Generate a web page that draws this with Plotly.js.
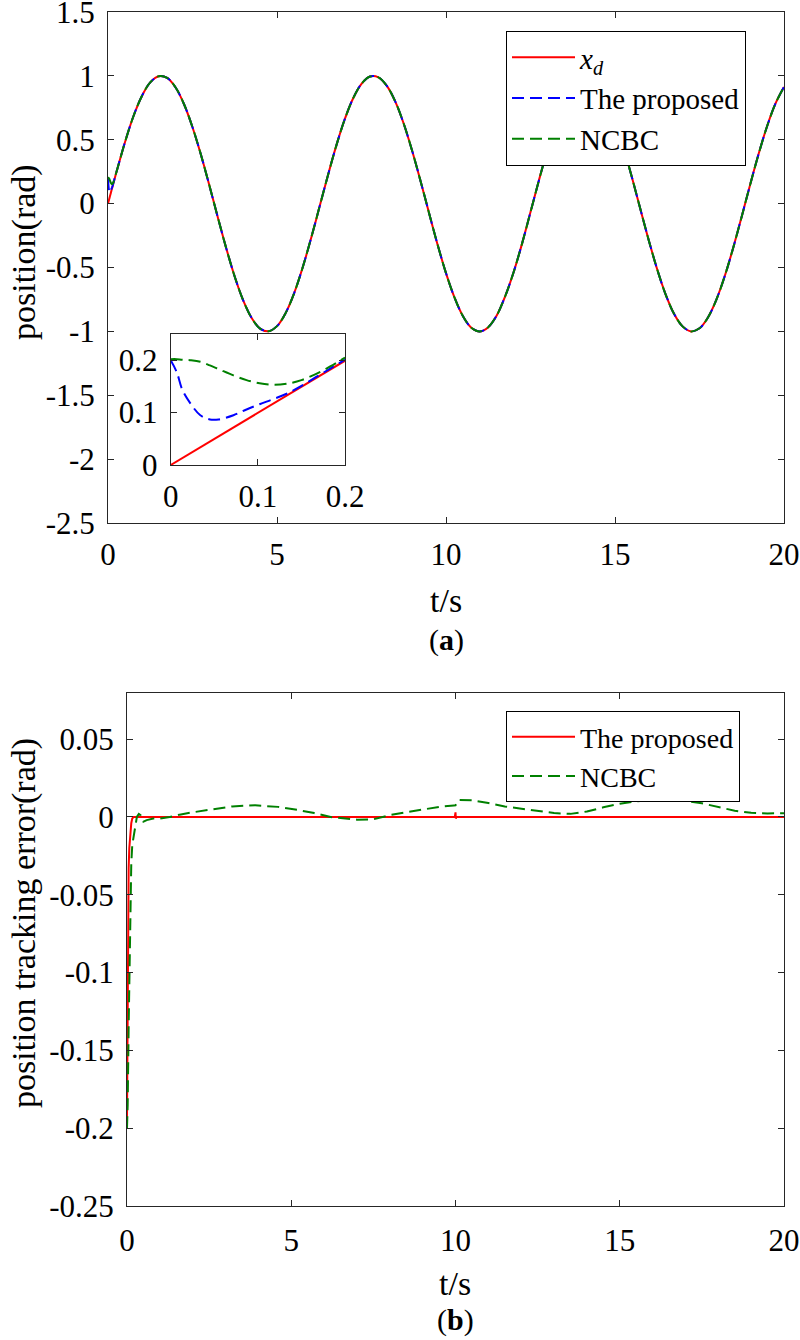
<!DOCTYPE html>
<html>
<head>
<meta charset="utf-8">
<script src="https://cdn.plot.ly/plotly-3.0.1.min.js"></script>
<style>
html,body{margin:0;padding:0;background:#fff}
#chart{width:800px;height:1340px}
</style>
</head>
<body>
<div id="chart"></div>
<script>
// ---------- Panel (a): position ----------
// start segment (also shown in the inset)
const tStart   = [0, 0.007, 0.013, 0.022, 0.034, 0.045, 0.055, 0.072, 0.087, 0.102, 0.118, 0.133, 0.15, 0.167, 0.183, 0.2];
const xdStart  = [0, 0.007, 0.013, 0.022, 0.034, 0.045, 0.055, 0.072, 0.087, 0.102, 0.118, 0.133, 0.149, 0.166, 0.182, 0.199];
const propStart= [0.2, 0.177, 0.145, 0.119, 0.095, 0.087, 0.087, 0.095, 0.106, 0.116, 0.126, 0.136, 0.151, 0.168, 0.184, 0.201];
const ncbcStart= [0.202, 0.202, 0.201, 0.2, 0.197, 0.19, 0.183, 0.171, 0.162, 0.156, 0.153, 0.155, 0.162, 0.174, 0.188, 0.205];
// rest of the run (all three curves coincide here)
const tMain = [0.25,0.5,0.75,1,1.25,1.5,1.75,2,2.25,2.5,2.75,3,3.25,3.5,3.75,4,4.25,4.5,4.75,5,
  5.25,5.5,5.75,6,6.25,6.5,6.75,7,7.25,7.5,7.75,8,8.25,8.5,8.75,9,9.25,9.5,9.75,10,
  10.25,10.5,10.75,11,11.25,11.5,11.75,12,12.25,12.5,12.75,13,13.25,13.5,13.75,14,14.25,14.5,14.75,15,
  15.25,15.5,15.75,16,16.25,16.5,16.75,17,17.25,17.5,17.75,18,18.25,18.5,18.75,19,19.25,19.5,19.75,20];
const xdMain = [0.247,0.479,0.682,0.841,0.949,0.997,0.984,0.909,0.778,0.598,
  0.382,0.141,-0.108,-0.351,-0.572,-0.757,-0.895,-0.978,-0.999,-0.959,
  -0.859,-0.706,-0.508,-0.279,-0.033,0.215,0.450,0.657,0.823,0.938,
  0.995,0.989,0.922,0.799,0.625,0.412,0.174,-0.075,-0.320,-0.544,
  -0.734,-0.880,-0.971,-1.000,-0.967,-0.876,-0.726,-0.537,-0.313,-0.066,
  0.183,0.420,0.632,0.804,0.926,0.991,0.994,0.935,0.818,0.650,
  0.443,0.206,-0.042,-0.288,-0.516,-0.712,-0.864,-0.961,-1.000,-0.976,
  -0.891,-0.751,-0.565,-0.343,-0.100,0.150,0.390,0.606,0.784,0.913];

// ---------- Panel (b): tracking error ----------
const tErrP = [0, 0.01, 0.02, 0.03, 0.04, 0.05, 0.07, 0.1, 0.13, 0.16, 0.2, 0.3, 1, 5, 9.98, 10.0, 10.01, 10.03, 15, 20];
const errP  = [-0.195, -0.15, -0.1, -0.065, -0.045, -0.033, -0.02, -0.01, -0.004, -0.001, 0, 0, 0, 0, 0, 0.003, -0.001, 0, 0, 0];
const tErrN = [0, 0.02, 0.05, 0.08, 0.1, 0.13, 0.16, 0.2, 0.25, 0.3, 0.36, 0.42, 0.5, 0.6, 0.8, 1.0, 1.3, 1.6, 2.0, 2.6,
  3.2, 3.9, 4.6, 5.2, 5.7, 6.2, 6.6, 7.0, 7.5, 8.0, 8.5, 9.0, 9.5, 9.95, 10.0, 10.05, 10.1, 10.5, 11.0, 11.5,
  12.0, 12.5, 13.0, 13.5, 14.0, 14.5, 15.0, 15.5, 16.0, 16.5, 17.0, 17.5, 18.0, 18.5, 19.0, 19.5, 20.0];
const errN  = [-0.2, -0.185, -0.135, -0.09, -0.061, -0.03, -0.018, -0.012, -0.007, 0.0, 0.002, 0.001, -0.003, -0.002, -0.001, -0.001, 0.0, 0.0015, 0.003, 0.005,
  0.0068, 0.0075, 0.0065, 0.0045, 0.0025, 0.0, -0.001, -0.0017, -0.0015, 0.0012, 0.003, 0.0048, 0.0065, 0.0074, 0.0075, 0.0095, 0.011, 0.0107, 0.009, 0.0068,
  0.0055, 0.0038, 0.0025, 0.002, 0.0035, 0.0062, 0.0085, 0.0101, 0.011, 0.0113, 0.0104, 0.0088, 0.0062, 0.004, 0.0027, 0.0023, 0.0024];

// ---------- ticks ----------
const tickX = [0, 5, 10, 15, 20];
const tickYa = [-2.5, -2, -1.5, -1, -0.5, 0, 0.5, 1, 1.5];
const tickYaText = ['-2.5', '-2', '-1.5', '-1', '-0.5', '0', '0.5', '1', '1.5'];
const tickYb = [-0.25, -0.2, -0.15, -0.1, -0.05, 0, 0.05];
const tickYbText = ['-0.25', '-0.2', '-0.15', '-0.1', '-0.05', '0', '0.05'];
const tickInset = [0, 0.1, 0.2];

const RED = 'rgb(255,0,0)', BLUE = 'rgb(0,0,255)', GREEN = 'rgb(0,128,0)';
const DASH = '12px,6px';
const FONT = 'Liberation Serif, Times New Roman, serif';

const tA = tStart.concat(tMain);
const traces = [
  {x: tA, y: xdStart.concat(xdMain), xaxis: 'x', yaxis: 'y', name: '<i>x</i><sub><i>d</i></sub>',
   mode: 'lines', line: {color: RED, width: 2, shape: 'spline'}, legend: 'legend'},
  {x: tA, y: propStart.concat(xdMain), xaxis: 'x', yaxis: 'y', name: 'The proposed',
   mode: 'lines', line: {color: BLUE, width: 2, dash: DASH, shape: 'spline'}, legend: 'legend'},
  {x: tA, y: ncbcStart.concat(xdMain), xaxis: 'x', yaxis: 'y', name: 'NCBC',
   mode: 'lines', line: {color: GREEN, width: 2, dash: DASH, shape: 'spline'}, legend: 'legend'},
  // inset
  {x: tStart, y: xdStart, xaxis: 'x3', yaxis: 'y3', showlegend: false,
   mode: 'lines', line: {color: RED, width: 2}},
  {x: tStart, y: propStart, xaxis: 'x3', yaxis: 'y3', showlegend: false,
   mode: 'lines', line: {color: BLUE, width: 2, dash: DASH, shape: 'spline'}},
  {x: tStart, y: ncbcStart, xaxis: 'x3', yaxis: 'y3', showlegend: false,
   mode: 'lines', line: {color: GREEN, width: 2, dash: DASH, shape: 'spline'}},
  // panel b
  {x: tErrP, y: errP, xaxis: 'x2', yaxis: 'y2', name: 'The proposed', legend: 'legend2',
   mode: 'lines', line: {color: RED, width: 2}},
  {x: tErrN, y: errN, xaxis: 'x2', yaxis: 'y2', name: 'NCBC', legend: 'legend2',
   mode: 'lines', line: {color: GREEN, width: 2, dash: DASH}}
];

const axBase = {
  showline: true, linecolor: '#262626', linewidth: 1, mirror: 'allticks',
  ticks: 'inside', ticklen: 6, tickcolor: '#262626', showgrid: false, zeroline: false,
  tickfont: {family: FONT, size: 31, color: '#000'}, fixedrange: true, ticklabeloverflow: 'allow'
};
const H = 1340, W = 800;
const layout = {
  width: W, height: H,
  margin: {l: 0, r: 0, t: 0, b: 0},
  paper_bgcolor: '#fff', plot_bgcolor: 'rgba(0,0,0,0)',
  showlegend: true,
  font: {family: FONT, size: 31, color: '#000'},
  xaxis: Object.assign({}, axBase, {domain: [108 / W, 784 / W], anchor: 'y', range: [0, 20], tickvals: tickX, ticklabelstandoff: 4}),
  yaxis: Object.assign({}, axBase, {domain: [1 - 523 / H, 1 - 12 / H], anchor: 'x', range: [-2.5, 1.5], tickvals: tickYa, ticktext: tickYaText, ticklabelstandoff: 6}),
  xaxis2: Object.assign({}, axBase, {domain: [127 / W, 784 / W], anchor: 'y2', range: [0, 20], tickvals: tickX, ticklabelstandoff: 7}),
  yaxis2: Object.assign({}, axBase, {domain: [1 - 1206 / H, 1 - 692.5 / H], anchor: 'x2', range: [-0.25, 0.08], tickvals: tickYb, ticktext: tickYbText, ticklabelstandoff: 6}),
  xaxis3: Object.assign({}, axBase, {domain: [170.7 / W, 345 / W], anchor: 'y3', range: [0, 0.2], tickvals: tickInset, ticklabelstandoff: 4}),
  yaxis3: Object.assign({}, axBase, {domain: [1 - 465 / H, 1 - 334 / H], anchor: 'x3', range: [0, 0.25], tickvals: tickInset, ticklabelstandoff: 6}),
  legend: {x: 506 / W, y: 1 - 31 / H, xanchor: 'left', yanchor: 'top', bgcolor: '#fff', bordercolor: '#000', borderwidth: 1,
           font: {family: FONT, size: 29, color: '#000'}, itemwidth: 63, tracegroupgap: 0},
  legend2: {x: 506 / W, y: 1 - 711 / H, xanchor: 'left', yanchor: 'top', bgcolor: '#fff', bordercolor: '#000', borderwidth: 1,
           font: {family: FONT, size: 28, color: '#000'}, itemwidth: 63, tracegroupgap: 0},
  annotations: [
    {text: 'position(rad)', xref: 'paper', yref: 'paper', x: 24 / W, y: 1 - 252 / H, textangle: -90,
     showarrow: false, xanchor: 'center', yanchor: 'middle', font: {family: FONT, size: 34}},
    {text: 't/s', xref: 'paper', yref: 'paper', x: 446 / W, y: 1 - 600 / H, showarrow: false,
     xanchor: 'center', yanchor: 'middle', font: {family: FONT, size: 34}},
    {text: '(<b>a</b>)', xref: 'paper', yref: 'paper', x: 446 / W, y: 1 - 640 / H, showarrow: false,
     xanchor: 'center', yanchor: 'middle', font: {family: FONT, size: 30}},
    {text: 'position tracking error(rad)', xref: 'paper', yref: 'paper', x: 24 / W, y: 1 - 923 / H, textangle: -90,
     showarrow: false, xanchor: 'center', yanchor: 'middle', font: {family: FONT, size: 34}},
    {text: 't/s', xref: 'paper', yref: 'paper', x: 455 / W, y: 1 - 1283 / H, showarrow: false,
     xanchor: 'center', yanchor: 'middle', font: {family: FONT, size: 34}},
    {text: '(<b>b</b>)', xref: 'paper', yref: 'paper', x: 455 / W, y: 1 - 1320 / H, showarrow: false,
     xanchor: 'center', yanchor: 'middle', font: {family: FONT, size: 30}}
  ]
};
Plotly.newPlot('chart', traces, layout, {displayModeBar: false, staticPlot: true});
</script>
</body>
</html>
